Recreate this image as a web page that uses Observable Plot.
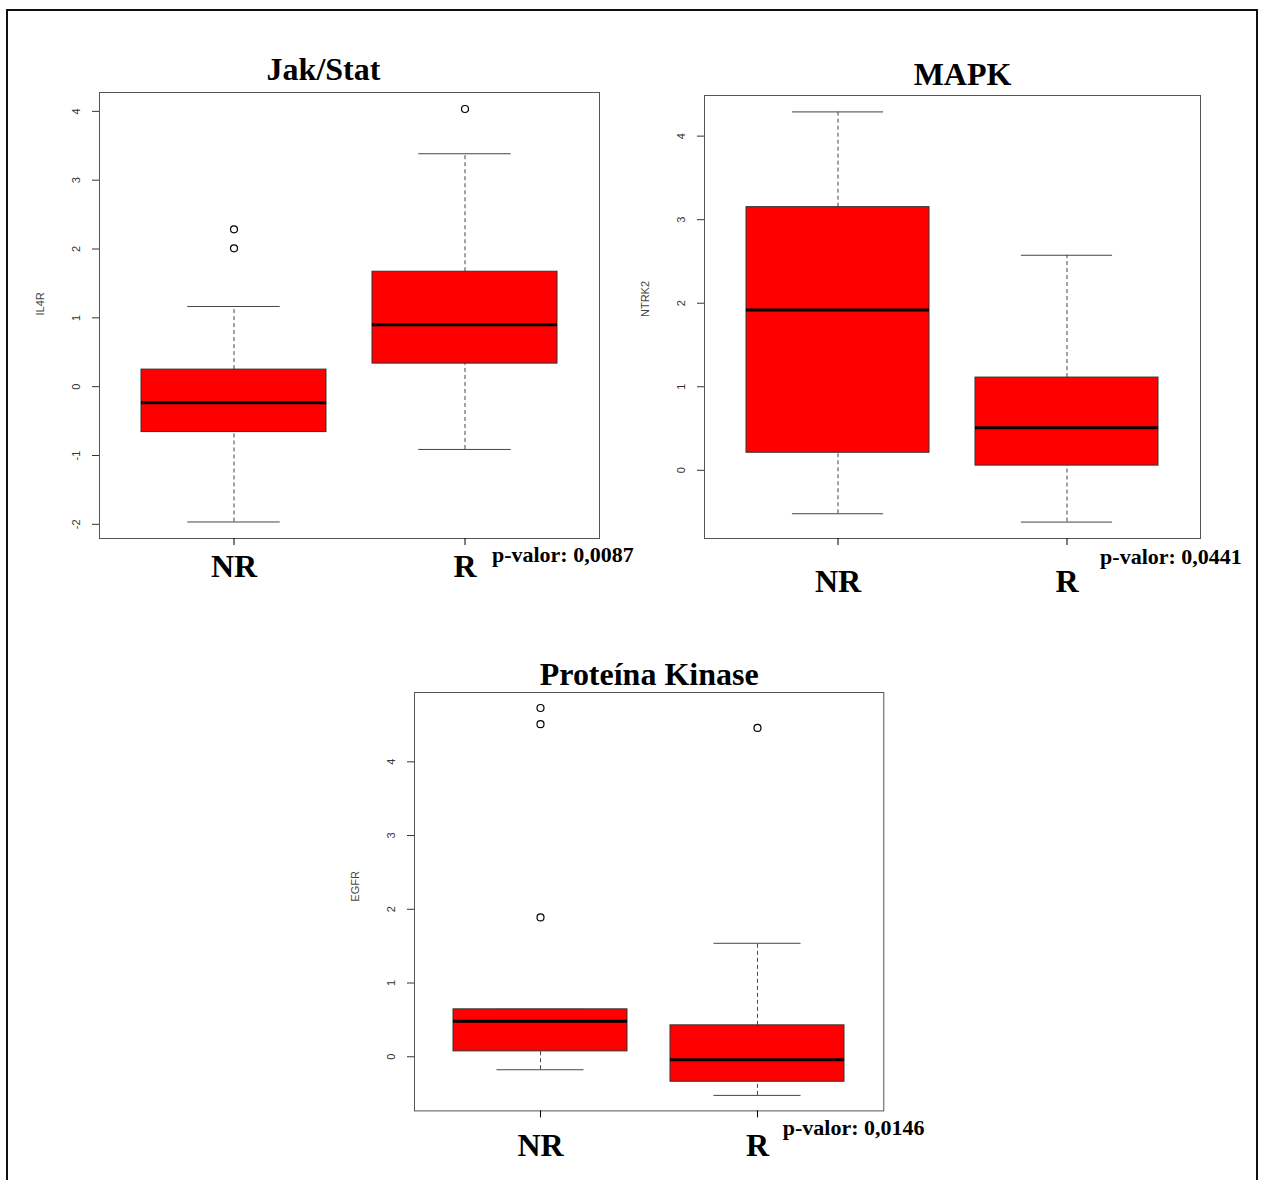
<!DOCTYPE html>
<html>
<head>
<meta charset="utf-8">
<script src="https://cdn.jsdelivr.net/npm/d3@7"></script>
<script src="https://cdn.jsdelivr.net/npm/@observablehq/plot@0.6"></script>
<style>
body { margin: 0; background: #fff; }
#page { position: relative; width: 1262px; height: 1180px; overflow: hidden; background: #fff; }
#border { position: absolute; left: 6px; top: 9px; width: 1248px; height: 1220px; border: 2px solid #111; }
</style>
</head>
<body>
<div id="page"><div id="border"></div></div>
<script>
// ---- data ----
const groups = ["NR", "R"];
const titles = ["Jak/Stat", "MAPK", "Proteína Kinase"];
const yLabels = ["IL4R", "NTRK2", "EGFR"];
const pValues = ["p-valor: 0,0087", "p-valor: 0,0441", "p-valor: 0,0146"];
const yTicks = [[-2, -1, 0, 1, 2, 3, 4], [0, 1, 2, 3, 4], [0, 1, 2, 3, 4]];

// five-number summaries: [lower whisker, Q1, median, Q3, upper whisker]
const il4rNR = [-1.966, -0.66, -0.233, 0.248, 1.165];
const il4rR = [-0.912, 0.335, 0.898, 1.67, 3.384];
const il4rOutNR = [2.01, 2.286];
const il4rOutR = [4.034];

const ntrk2NR = [-0.52, 0.21, 1.92, 3.15, 4.29];
const ntrk2R = [-0.62, 0.056, 0.51, 1.11, 2.574];
const ntrk2OutNR = [];
const ntrk2OutR = [];

const egfrNR = [-0.176, 0.073, 0.48, 0.643, 0.643];
const egfrR = [-0.524, -0.339, -0.041, 0.426, 1.539];
const egfrOutNR = [1.89, 4.51, 4.73];
const egfrOutR = [4.46];

// ---- drawing ----
const page = document.getElementById("page");

function panel(stats, outliers, ticks, title, ylab, pval, geo) {
  const {L, R, T, B, titleDx, titleDy, xPad, pDx, pDy} = geo;
  const mL = 110, mT = 70, mR = 70, mB = 75;
  const w = R - L, h = B - T;
  const rows = groups.map((g, i) => ({g, lo: stats[i][0], q1: stats[i][1], med: stats[i][2], q3: stats[i][3], hi: stats[i][4]}));
  const pts = groups.flatMap((g, i) => outliers[i].map(v => ({g, v})));
  const all = rows.flatMap(r => [r.lo, r.hi]).concat(pts.map(p => p.v));
  const mn = d3.min(all), mx = d3.max(all), pad = (mx - mn) * 0.04;
  const unit = w / 2.16;
  const capInset = unit * 0.2;
  const serif = "'Liberation Serif', 'Times New Roman', serif";
  const plot = Plot.plot({
    width: mL + w + mR,
    height: mT + h + mB,
    marginLeft: mL, marginRight: mR, marginTop: mT, marginBottom: mB,
    style: {background: "transparent", overflow: "visible", fontFamily: "'Liberation Sans', Arial, sans-serif"},
    x: {type: "band", domain: groups, paddingInner: 0.2, paddingOuter: 0.18},
    y: {domain: [mn - pad, mx + pad]},
    marks: [
      Plot.ruleX(rows, {x: "g", y1: "q3", y2: "hi", stroke: "#444", strokeDasharray: "4,3"}),
      Plot.ruleX(rows, {x: "g", y1: "lo", y2: "q1", stroke: "#444", strokeDasharray: "4,3"}),
      Plot.tickY(rows, {x: "g", y: "hi", insetLeft: capInset, insetRight: capInset, stroke: "#444"}),
      Plot.tickY(rows, {x: "g", y: "lo", insetLeft: capInset, insetRight: capInset, stroke: "#444"}),
      Plot.barY(rows, {x: "g", y1: "q1", y2: "q3", fill: "#ff0000", stroke: "#333", strokeWidth: 1}),
      Plot.tickY(rows, {x: "g", y: "med", stroke: "black", strokeWidth: 3}),
      Plot.dot(pts, {x: "g", y: "v", r: 3.5, stroke: "black", fill: "none", strokeWidth: 1.2}),
      Plot.frame({stroke: "#555"}),
      Plot.axisY({ticks, tickFormat: d => String(d), tickRotate: -90, tickSize: 7, tickPadding: 13, fontSize: 11, color: "#333", label: null}),
      Plot.axisX({tickSize: 7, tickPadding: xPad, fontSize: 32, fontWeight: "bold", fontFamily: serif, color: "black", label: null, lineAnchor: "top"}),
      Plot.text([ylab], {text: d => d, frameAnchor: "left", rotate: -90, dx: -59, fontSize: 11, fill: "#444"}),
      Plot.text([title], {text: d => d, frameAnchor: "top", dx: titleDx, dy: -titleDy, lineAnchor: "bottom", fontSize: 32, fontWeight: "bold", fontFamily: serif, fill: "black"}),
      Plot.text([pval], {text: d => d, frameAnchor: "bottom-right", textAnchor: "start", dx: pDx, dy: pDy, lineAnchor: "bottom", fontSize: 22, fontWeight: "bold", fontFamily: serif, fill: "black"})
    ]
  });
  plot.style.position = "absolute";
  plot.style.left = (L - mL) + "px";
  plot.style.top = (T - mT) + "px";
  plot.style.maxWidth = "none";
  page.appendChild(plot);
}

panel([il4rNR, il4rR], [il4rOutNR, il4rOutR], yTicks[0], titles[0], yLabels[0], pValues[0],
  {L: 99.3, R: 599.3, T: 92.3, B: 538.3, titleDx: -26, titleDy: 12.3, xPad: 9, pDx: -107.6, pDy: 23.7});
panel([ntrk2NR, ntrk2R], [ntrk2OutNR, ntrk2OutR], yTicks[1], titles[1], yLabels[1], pValues[1],
  {L: 703.7, R: 1199.7, T: 95.3, B: 538.3, titleDx: 10, titleDy: 11, xPad: 23.7, pDx: -100.4, pDy: 25.7});
panel([egfrNR, egfrR], [egfrOutNR, egfrOutR], yTicks[2], titles[2], yLabels[2], pValues[2],
  {L: 414, R: 883.3, T: 692.3, B: 1110.7, titleDx: 0, titleDy: 7.3, xPad: 15.6, pDx: -101, pDy: 24.3});
</script>
</body>
</html>
